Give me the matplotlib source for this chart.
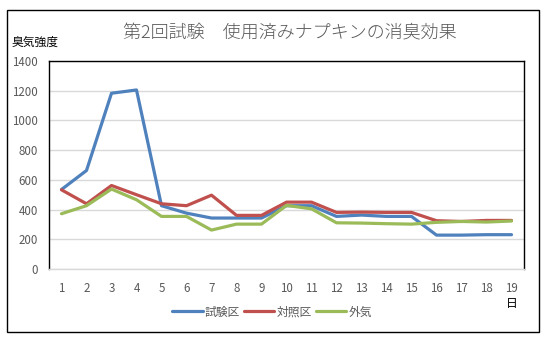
import matplotlib.pyplot as plt
from matplotlib.patches import Rectangle

plt.rcParams['font.family'] = ['Noto Sans CJK JP', 'DejaVu Sans']

days = list(range(1, 20))
test_area = [535, 663, 1183, 1205, 426, 376, 343, 343, 343, 426, 426, 354, 363, 354, 354, 228, 228, 231, 231]
control_area = [533, 439, 562, 500, 439, 426, 497, 361, 361, 450, 450, 381, 383, 381, 381, 325, 320, 327, 327]
outside_air = [372, 426, 538, 466, 354, 354, 262, 302, 302, 428, 405, 311, 309, 305, 302, 314, 320, 316, 323]
labels = ['試験区', '対照区', '外気']
colors = ['#4F81BD', '#C0504D', '#9BBB59']

W, H = 552, 340
fig = plt.figure(figsize=(W / 100, H / 100), dpi=100)

# outer chart frame
fig.patches.append(Rectangle((7 / W, 1 - 332 / H), 532 / W, 322 / H,
                             transform=fig.transFigure, fill=False,
                             edgecolor='black', linewidth=1))

ax = fig.add_axes([49 / W, 1 - 269 / H, (524 - 49) / W, (269 - 61) / H])
for ys, lab, c in zip([test_area, control_area, outside_air], labels, colors):
    ax.plot(days, ys, color=c, linewidth=2.3, label=lab, solid_capstyle='round')

ax.set_xlim(0.5, 19.5)
ax.set_ylim(0, 1400)
ax.set_yticks(range(0, 1401, 200))
ax.set_xticks(days)
ax.grid(axis='y', color='#D9D9D9', linewidth=1)
ax.set_axisbelow(True)
ax.tick_params(length=0, labelsize=8.3, labelcolor='#595959')
ax.tick_params(axis='x', pad=9)
ax.tick_params(axis='y', pad=8)
for s in ['top', 'left', 'right']:
    ax.spines[s].set_color('black')
    ax.spines[s].set_linewidth(1)
ax.spines['bottom'].set_color('#D9D9D9')
ax.spines['bottom'].set_linewidth(1)

fig.text(290 / W, 1 - 33 / H, '第2回試験\u3000使用済みナプキンの消臭効果',
         ha='center', va='center', fontsize=13, color='#595959',
         fontweight='light')
fig.text(12 / W, 1 - 42 / H, '臭気強度', ha='left', va='center',
         fontsize=8.5, color='black')
fig.text(512 / W, 1 - 303 / H, '日', ha='center', va='center',
         fontsize=8.5, color='black')

fig.legend(loc='center', bbox_to_anchor=(272 / W, 1 - 312 / H), ncol=3,
           frameon=False, fontsize=8.5, labelcolor='#595959',
           handlelength=2.6, handletextpad=0.2, columnspacing=0.3)

fig.savefig('out.png', dpi=100)
